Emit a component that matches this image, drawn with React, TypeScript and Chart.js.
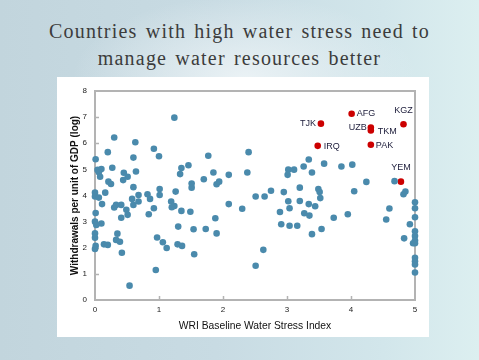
import React, { useEffect, useRef } from "react";
import { Chart, registerables } from "chart.js";

Chart.register(...registerables);

const titleLines = ["Countries with high water stress need to", "manage water resources better"];
const xAxisTitle = "WRI Baseline Water Stress Index";
const yAxisTitle = "Withdrawals per unit of GDP (log)";

const xTickValues = [0, 1, 2, 3, 4, 5];
const yTickValues = [0, 1, 2, 3, 4, 5, 6, 7, 8];

const otherStress = [
  0.01, 0.2, 0.3, 0.63, 1.24, 0.92, 1.0, 0.6, 1.77, 0.04, 0.1, 0.06, 0.08, 0.27, 0.45, 0.64, 0.51, 0.44, 0.21, 0.25,
  0.6, 0.16, 0.0, 0.0, 0.06, 0.11, 0.3, 0.33, 0.41, 0.58, 0.6, 0.68, 0.68, 0.49, 0.51, 0.41, 0.01, 0.0, 0.1, 0.02,
  0.84, 0.92, 0.82, 0.86, 1.01, 1.01, 1.19, 1.2, 1.24, 1.26, 1.35, 1.49, 1.51, 1.51, 1.7, 1.33, 1.35, 1.46, 1.3, 0.0,
  0.0, 0.01, 0.0, 0.14, 0.2, 0.33, 0.35, 0.39, 0.42, 0.97, 1.06, 1.12, 1.29, 1.36, 1.55, 0.95, 0.54, 1.54, 1.73, 2.4,
  1.85, 1.9, 1.94, 2.09, 2.38, 2.09, 2.3, 1.88, 2.51, 2.65, 2.75, 2.95, 2.89, 3.02, 3.04, 3.2, 3.2, 3.34, 3.44, 3.27,
  3.35, 3.49, 3.51, 3.52, 3.73, 3.95, 3.02, 3.11, 3.01, 3.26, 3.34, 3.39, 3.58, 3.85, 2.91, 3.04, 3.16, 1.9, 2.63, 2.51,
  4.02, 4.24, 4.68, 4.82, 4.85, 4.05, 4.6, 4.55, 4.92, 4.83, 3.54, 3.39, 5.0, 5.0, 5.0, 5.0, 5.0, 5.0, 4.97, 5.0,
  5.0, 5.0, 5.0, 5.0,
];
const otherWithdrawals = [
  5.39, 5.66, 6.22, 6.04, 6.98, 5.79, 5.5, 5.45, 5.52, 4.98, 5.01, 4.89, 4.72, 5.06, 4.87, 4.92, 4.72, 4.59, 4.53, 4.44,
  4.32, 4.11, 4.11, 3.96, 3.92, 3.67, 3.54, 3.64, 3.64, 3.87, 3.64, 4.02, 3.77, 3.45, 3.26, 3.15, 3.33, 3.0, 2.93, 2.87,
  3.28, 3.51, 4.05, 3.87, 4.25, 4.02, 3.77, 3.55, 3.6, 4.15, 3.41, 3.38, 4.3, 4.46, 4.62, 4.82, 5.05, 5.16, 2.81, 2.55,
  2.38, 2.07, 1.95, 2.13, 2.11, 2.3, 2.54, 2.23, 1.81, 2.39, 2.21, 1.99, 2.13, 2.07, 1.75, 1.15, 0.55, 2.71, 2.72, 5.66,
  4.88, 4.43, 4.53, 4.79, 4.88, 3.67, 3.49, 3.13, 3.96, 3.96, 4.18, 4.13, 3.37, 3.78, 3.51, 4.3, 3.79, 3.67, 3.59, 3.32,
  3.23, 4.25, 4.13, 3.9, 3.15, 3.28, 4.99, 4.99, 4.79, 5.11, 5.38, 4.88, 5.22, 5.11, 2.9, 2.84, 2.84, 2.55, 1.92, 1.31,
  5.18, 4.52, 4.55, 4.05, 4.15, 4.16, 3.5, 3.08, 2.9, 2.36, 2.72, 2.52, 3.74, 3.51, 3.17, 2.63, 2.45, 2.28, 2.17, 2.17,
  1.62, 1.48, 1.36, 1.05,
];

const stressedCodes = ["TJK", "IRQ", "AFG", "UZB", "TKM", "PAK", "KGZ", "YEM"];
const stressedStress = [3.53, 3.48, 4.01, 4.31, 4.31, 4.31, 4.82, 4.78];
const stressedWithdrawals = [6.75, 5.9, 7.13, 6.6, 6.49, 5.94, 6.73, 4.53];
// label placement: [dx, dy, align]
const labelPlacement: [number, number, CanvasTextAlign][] = [
  [-5, 0, "right"],
  [6, 1, "left"],
  [5, 0, "left"],
  [-4, 0, "right"],
  [7, 1, "left"],
  [5, 1, "left"],
  [0, -14, "center"],
  [0, -14, "center"],
];

const AXIS_GRAY = "#b3b3b3";

const framePlugin = {
  id: "frame",
  beforeDatasetsDraw(chart: any) {
    const { ctx, chartArea } = chart;
    const { left, right, top, bottom } = chartArea;
    const xs = chart.scales.x;
    const ys = chart.scales.y;
    ctx.save();
    ctx.strokeStyle = AXIS_GRAY;
    ctx.lineWidth = 2;
    ctx.strokeRect(left, top, right - left, bottom - top);
    ctx.lineWidth = 1.5;
    xTickValues.slice(1, -1).forEach((v) => {
      const px = Math.round(xs.getPixelForValue(v)) + 0.5;
      ctx.beginPath();
      ctx.moveTo(px, bottom);
      ctx.lineTo(px, bottom - 4);
      ctx.stroke();
    });
    yTickValues.slice(1, -1).forEach((v) => {
      const py = Math.round(ys.getPixelForValue(v)) + 0.5;
      ctx.beginPath();
      ctx.moveTo(left, py);
      ctx.lineTo(left + 4, py);
      ctx.stroke();
    });
    ctx.restore();
  },
};

const labelPlugin = {
  id: "codeLabels",
  afterDatasetsDraw(chart: any) {
    const { ctx } = chart;
    const meta = chart.getDatasetMeta(1);
    ctx.save();
    ctx.font = "9px 'Liberation Sans', Arial, sans-serif";
    ctx.fillStyle = "#1c1c3a";
    ctx.textBaseline = "middle";
    meta.data.forEach((pt: any, i: number) => {
      const [dx, dy, align] = labelPlacement[i];
      ctx.textAlign = align;
      ctx.fillText(stressedCodes[i], pt.x + dx, pt.y + dy);
    });
    ctx.restore();
  },
};

export default function App() {
  const canvasRef = useRef<HTMLCanvasElement | null>(null);

  useEffect(() => {
    if (!canvasRef.current) return;
    const chart = new Chart(canvasRef.current, {
      type: "scatter",
      data: {
        datasets: [
          {
            label: "Other countries",
            data: otherStress.map((x, i) => ({ x, y: otherWithdrawals[i] })),
            backgroundColor: "#4a8aac",
            borderColor: "#4a8aac",
            pointRadius: 3.3,
            pointBorderWidth: 0,
            clip: false,
          },
          {
            label: "High stress",
            data: stressedStress.map((x, i) => ({ x, y: stressedWithdrawals[i] })),
            backgroundColor: "#cc0000",
            borderColor: "#cc0000",
            pointRadius: 3.3,
            pointBorderWidth: 0,
            clip: false,
          },
        ],
      },
      options: {
        responsive: false,
        animation: false,
        devicePixelRatio: 1,
        layout: { padding: { left: 0, top: 14, right: 14, bottom: 0 } },
        plugins: {
          legend: { display: false },
          tooltip: { enabled: false },
        },
        scales: {
          x: {
            type: "linear",
            min: 0,
            max: 5,
            afterFit: (s: any) => {
              s.height = 37;
            },
            afterBuildTicks: (s: any) => {
              s.ticks = xTickValues.map((v) => ({ value: v }));
            },
            grid: { display: false, drawTicks: false },
            border: { display: false },
            ticks: {
              padding: 5,
              color: "#222",
              font: { family: "'Liberation Sans', Arial, sans-serif", size: 8 },
            },
            title: {
              display: true,
              text: xAxisTitle,
              color: "#111",
              padding: { top: 0, bottom: 5 },
              font: { family: "'Liberation Sans Narrow', 'Liberation Sans', Arial, sans-serif", size: 10.3 },
            },
          },
          y: {
            type: "linear",
            min: 0,
            max: 8,
            afterFit: (s: any) => {
              s.width = 38;
            },
            afterBuildTicks: (s: any) => {
              s.ticks = yTickValues.map((v) => ({ value: v }));
            },
            grid: { display: false, drawTicks: false },
            border: { display: false },
            ticks: {
              padding: 8,
              color: "#222",
              font: { family: "'Liberation Sans', Arial, sans-serif", size: 8 },
            },
            title: {
              display: true,
              text: yAxisTitle,
              color: "#111",
              padding: { top: 12, bottom: 0 },
              font: { family: "'Liberation Sans Narrow', 'Liberation Sans', Arial, sans-serif", size: 10, weight: "bold" },
            },
          },
        },
      },
      plugins: [framePlugin, labelPlugin],
    } as any);
    return () => chart.destroy();
  }, []);

  return (
    <div
      style={{
        position: "absolute",
        left: 0,
        top: 0,
        width: 479,
        height: 360,
        overflow: "hidden",
        background:
          "radial-gradient(ellipse 230px 110px at 245px 78px, rgba(236,243,246,0.95), rgba(236,243,246,0) 75%), linear-gradient(90deg, #c2d5dd 0%, #c8dbe3 45%, #d2e6eb 80%, #dceff0 100%)",
      }}
    >
      <div
        style={{
          position: "absolute",
          left: 0,
          top: 18,
          width: 479,
          textAlign: "center",
          fontFamily: "'Liberation Serif', 'Times New Roman', serif",
          fontSize: 20,
          lineHeight: "26.5px",
          letterSpacing: "1.2px",
          wordSpacing: "2px",
          color: "#3c3c3c",
        }}
      >
        {titleLines.map((t) => (
          <div key={t}>{t}</div>
        ))}
      </div>
      <div
        style={{
          position: "absolute",
          left: 57,
          top: 77,
          width: 372,
          height: 260,
          background: "#ffffff",
        }}
      >
        <canvas ref={canvasRef} width={372} height={260} style={{ display: "block" }} />
      </div>
    </div>
  );
}
